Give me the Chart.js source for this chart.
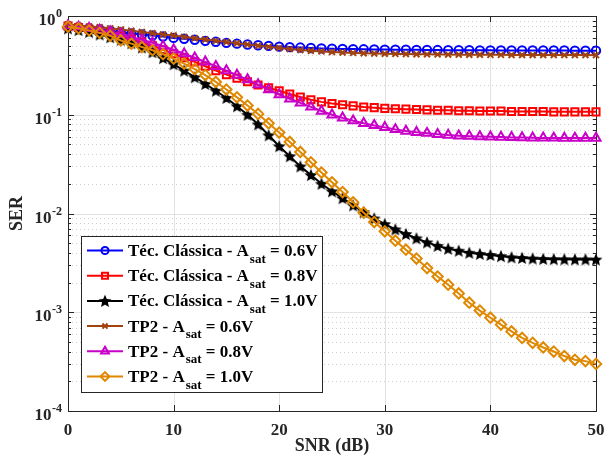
<!DOCTYPE html>
<html>
<head>
<meta charset="utf-8">
<script src="https://cdn.jsdelivr.net/npm/chart.js"></script>
<style>
  body { margin: 0; background: #fff; }
  canvas { display: block; }
</style>
</head>
<body>
<canvas id="serChart" width="605" height="457"></canvas>
<script>
// SNR axis (dB)
const snr = [0,1,2,3,4,5,6,7,8,9,10,11,12,13,14,15,16,17,18,19,20,21,22,23,24,25,
  26,27,28,29,30,31,32,33,34,35,36,37,38,39,40,41,42,43,44,45,46,47,48,49,50];

// Téc. Clássica
const tec06 = [0.78,0.765,0.75,0.73,0.71,0.68,0.665,0.65,0.635,0.62,0.60,0.588,0.575,0.56,0.548,0.535,0.525,0.515,0.506,0.498,
  0.49,0.484,0.479,0.474,0.47,0.467,0.464,0.462,0.46,0.458,0.457,0.456,0.455,0.454,0.453,0.452,0.451,0.45,0.45,0.449,
  0.449,0.448,0.448,0.448,0.447,0.447,0.447,0.447,0.446,0.446,0.446];
const tec08 = [0.79,0.765,0.735,0.70,0.665,0.625,0.585,0.545,0.50,0.455,0.415,0.378,0.343,0.31,0.28,0.255,0.235,0.216,0.2,0.187,
  0.175,0.162,0.151,0.142,0.135,0.13,0.126,0.123,0.12,0.118,0.116,0.115,0.114,0.113,0.112,0.111,0.111,0.11,0.11,0.109,
  0.109,0.109,0.108,0.108,0.108,0.108,0.107,0.107,0.107,0.107,0.107];
const tec10 = [0.75,0.72,0.69,0.65,0.61,0.575,0.53,0.48,0.43,0.375,0.325,0.28,0.24,0.205,0.175,0.148,0.122,0.1,0.08,0.062,
  0.048,0.038,0.030,0.0245,0.020,0.0168,0.0143,0.0121,0.0103,0.0089,0.0078,0.0069,0.0062,0.0056,0.0051,0.0047,0.0044,0.0042,0.0040,0.0039,
  0.0038,0.0037,0.0036,0.00355,0.0035,0.00347,0.00345,0.00344,0.00343,0.00343,0.00342];
// TP2
const tp06 = [0.82,0.80,0.785,0.77,0.75,0.73,0.71,0.69,0.67,0.65,0.635,0.615,0.595,0.578,0.56,0.545,0.53,0.515,0.5,0.487,
  0.475,0.463,0.453,0.445,0.438,0.432,0.427,0.423,0.42,0.417,0.415,0.413,0.412,0.41,0.409,0.408,0.407,0.406,0.405,0.405,
  0.404,0.404,0.403,0.403,0.403,0.402,0.402,0.402,0.402,0.402,0.401];
const tp08 = [0.80,0.775,0.75,0.72,0.69,0.655,0.615,0.575,0.535,0.495,0.455,0.415,0.378,0.343,0.31,0.28,0.252,0.227,0.202,0.18,
  0.16,0.145,0.132,0.12,0.109,0.1,0.093,0.087,0.082,0.078,0.0745,0.071,0.0685,0.0665,0.065,0.0635,0.0622,0.0613,0.0607,0.0602,
  0.0598,0.0594,0.059,0.0587,0.0585,0.0583,0.0582,0.0581,0.058,0.058,0.058];
const tp10 = [0.78,0.75,0.715,0.675,0.63,0.565,0.525,0.485,0.45,0.41,0.37,0.33,0.29,0.252,0.215,0.18,0.15,0.124,0.102,0.082,
  0.066,0.053,0.042,0.033,0.026,0.0207,0.0165,0.013,0.0102,0.0082,0.0066,0.0053,0.0043,0.0035,0.0028,0.0023,0.0019,0.00155,0.00125,0.00104,
  0.00088,0.00075,0.00064,0.00055,0.00049,0.00044,0.0004,0.00036,0.00033,0.00032,0.0003];

const xTicks = [0,10,20,30,40,50];
const yTicks = [1e-4,1e-3,1e-2,1e-1,1];
const yTickExp = ['-4','-3','-2','-1','0'];

const legendMain = ['Téc. Clássica - A','Téc. Clássica - A','Téc. Clássica - A','TP2 - A','TP2 - A','TP2 - A'];
const legendTail = [' = 0.6V',' = 0.8V',' = 1.0V',' = 0.6V',' = 0.8V',' = 1.0V'];

const FONT = '"Liberation Serif", "Times New Roman", serif';

// filled five point star marker
function makeStar(color, r) {
  const c = document.createElement('canvas');
  const s = Math.ceil(r * 2 + 2);
  c.width = s; c.height = s;
  const g = c.getContext('2d');
  g.fillStyle = color;
  g.beginPath();
  for (let i = 0; i < 10; i++) {
    const rr = i % 2 ? r * 0.45 : r;
    const a = -Math.PI / 2 + i * Math.PI / 5;
    g.lineTo(s / 2 + rr * Math.cos(a), s / 2 + 0.6 + rr * Math.sin(a));
  }
  g.closePath();
  g.fill();
  return c;
}
const star = makeStar('#000', 6.8);

const series = [
  {vals: tec06, color: '#0000ff', style: 'circle', radius: 4.2},
  {vals: tec08, color: '#ff0000', style: 'rect', radius: 5},
  {vals: tec10, color: '#000000', style: star, radius: 5},
  {vals: tp06, color: '#a2430e', style: 'crossRot', radius: 4.2},
  {vals: tp08, color: '#c800c8', style: 'triangle', radius: 5.3},
  {vals: tp10, color: '#e08800', style: 'rectRot', radius: 5.2}
];

const datasets = series.map((s, i) => ({
  data: snr.map((v, k) => ({x: v, y: s.vals[k]})),
  borderColor: s.color,
  borderWidth: 2,
  pointStyle: s.style,
  pointRadius: s.radius,
  pointBorderColor: s.color,
  pointBackgroundColor: 'rgba(0,0,0,0)',
  pointBorderWidth: 2,
  tension: 0,
  clip: false,
  order: 5 - i
}));

function hline(ctx, x1, x2, y) { ctx.beginPath(); ctx.moveTo(x1, y); ctx.lineTo(x2, y); ctx.stroke(); }
function vline(ctx, x, y1, y2) { ctx.beginPath(); ctx.moveTo(x, y1); ctx.lineTo(x, y2); ctx.stroke(); }

const frame = {
  id: 'frame',
  beforeDatasetsDraw(chart) {
    const {ctx, chartArea: a, scales: {x, y}} = chart;
    const minor = [];
    for (let e = -4; e < 0; e++) for (let k = 2; k <= 9; k++) minor.push(k * Math.pow(10, e));
    ctx.save();
    ctx.lineWidth = 1;
    // dotted minor grid
    ctx.strokeStyle = '#cfcfcf';
    ctx.setLineDash([1, 3]);
    minor.forEach(v => hline(ctx, a.left, a.right, Math.round(y.getPixelForValue(v)) + 0.5));
    ctx.setLineDash([]);
    // major grid
    ctx.strokeStyle = '#e2e2e2';
    yTicks.forEach(v => hline(ctx, a.left, a.right, Math.round(y.getPixelForValue(v)) + 0.5));
    xTicks.forEach(v => vline(ctx, Math.round(x.getPixelForValue(v)) + 0.5, a.top, a.bottom));
    // axes box and inward ticks
    ctx.strokeStyle = '#262626';
    ctx.strokeRect(Math.round(a.left) + 0.5, Math.round(a.top) + 0.5, Math.round(a.right - a.left), Math.round(a.bottom - a.top));
    yTicks.forEach(v => {
      const py = Math.round(y.getPixelForValue(v)) + 0.5;
      hline(ctx, a.left, a.left + 6, py); hline(ctx, a.right - 6, a.right, py);
    });
    minor.forEach(v => {
      const py = Math.round(y.getPixelForValue(v)) + 0.5;
      hline(ctx, a.left, a.left + 3, py); hline(ctx, a.right - 3, a.right, py);
    });
    xTicks.forEach(v => {
      const px = Math.round(x.getPixelForValue(v)) + 0.5;
      vline(ctx, px, a.bottom - 6, a.bottom); vline(ctx, px, a.top, a.top + 6);
    });
    ctx.restore();
  },
  afterDatasetsDraw(chart) {
    const {ctx, chartArea: a, scales: {x, y}} = chart;
    ctx.save();
    ctx.fillStyle = '#262626';
    // x tick labels
    ctx.font = 'bold 17px ' + FONT;
    ctx.textAlign = 'center';
    ctx.textBaseline = 'middle';
    xTicks.forEach(v => ctx.fillText(String(v), x.getPixelForValue(v), a.bottom + 20));
    // y tick labels 10^n
    yTicks.forEach((v, i) => {
      const py = y.getPixelForValue(v);
      ctx.textBaseline = 'alphabetic';
      ctx.textAlign = 'right';
      ctx.font = 'bold 12px ' + FONT;
      ctx.fillText(yTickExp[i], 62, py + 1);
      const w = ctx.measureText(yTickExp[i]).width;
      ctx.font = 'bold 17px ' + FONT;
      ctx.fillText('10', 62 - w - 0.5, py + 9);
    });
    // axis titles
    ctx.textAlign = 'center';
    ctx.textBaseline = 'middle';
    ctx.font = 'bold 18px ' + FONT;
    ctx.fillText('SNR (dB)', (a.left + a.right) / 2, 446);
    ctx.save();
    ctx.translate(17, (a.top + a.bottom) / 2);
    ctx.rotate(-Math.PI / 2);
    ctx.fillText('SER', 0, 0);
    ctx.restore();

    // legend
    const bx = 81, by = 236, bw = 241, bh = 156;
    ctx.fillStyle = '#fff';
    ctx.fillRect(bx, by, bw, bh);
    ctx.strokeStyle = '#262626';
    ctx.lineWidth = 1;
    ctx.strokeRect(bx + 0.5, by + 0.5, bw, bh);
    series.forEach((s, i) => {
      const cy = 250.5 + i * 25.2;
      ctx.strokeStyle = s.color;
      ctx.lineWidth = 2;
      hline(ctx, 87, 123, cy);
      ctx.lineWidth = 2;
      ctx.fillStyle = 'rgba(0,0,0,0)';
      if (Chart.helpers && Chart.helpers.drawPoint) {
        Chart.helpers.drawPoint(ctx, {pointStyle: s.style, rotation: 0, radius: s.radius * 0.85, borderWidth: 2}, 105, cy);
      }
      ctx.fillStyle = '#000';
      ctx.textAlign = 'left';
      ctx.textBaseline = 'alphabetic';
      ctx.font = 'bold 17px ' + FONT;
      let tx = 128;
      ctx.fillText(legendMain[i], tx, cy + 5.5);
      tx += ctx.measureText(legendMain[i]).width + 1;
      ctx.font = 'bold 13px ' + FONT;
      ctx.fillText('sat', tx, cy + 12);
      tx += ctx.measureText('sat').width;
      ctx.font = 'bold 17px ' + FONT;
      ctx.fillText(legendTail[i], tx, cy + 5.5);
    });
    ctx.restore();
  }
};

new Chart(document.getElementById('serChart'), {
  type: 'line',
  data: {datasets},
  options: {
    responsive: false,
    animation: false,
    layout: {padding: {left: 0, right: 9, top: 16, bottom: 0}},
    plugins: {legend: {display: false}, tooltip: {enabled: false}},
    scales: {
      x: {type: 'linear', min: 0, max: 50, ticks: {display: false}, grid: {display: false}, border: {display: false},
        afterFit(s) { s.height = 46; }},
      y: {type: 'logarithmic', min: 1e-4, max: 1, ticks: {display: false}, grid: {display: false}, border: {display: false},
        afterFit(s) { s.width = 68; }}
    }
  },
  plugins: [frame]
});
</script>
</body>
</html>
